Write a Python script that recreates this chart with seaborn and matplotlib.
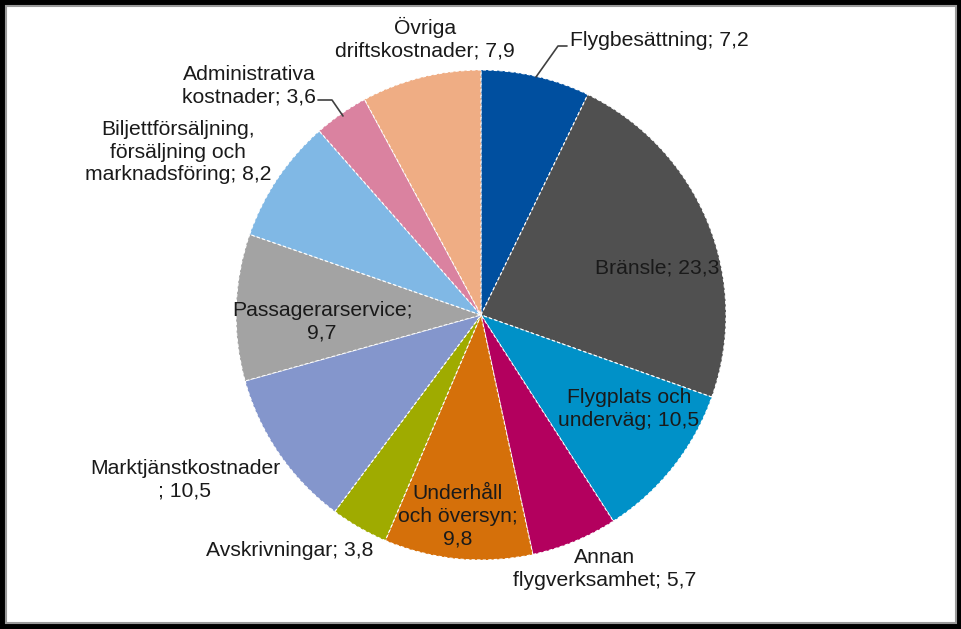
import matplotlib
matplotlib.use("Agg")
import matplotlib.pyplot as plt
from matplotlib.patches import Rectangle
import seaborn as sns

sns.set_theme(style="white")
plt.rcParams['font.family'] = ['Liberation Sans', 'DejaVu Sans']

# Data (clockwise from top)
categories = ["Flygbesättning", "Bränsle", "Flygplats och underväg", "Annan flygverksamhet",
              "Underhåll och översyn", "Avskrivningar", "Marktjänstkostnader",
              "Passagerarservice", "Biljettförsäljning, försäljning och marknadsföring",
              "Administrativa kostnader", "Övriga driftskostnader"]
values = [7.2, 23.3, 10.5, 5.7, 9.8, 3.8, 10.5, 9.7, 8.2, 3.6, 7.9]
label_texts = ["Flygbesättning; 7,2", "Bränsle; 23,3", "Flygplats och\nunderväg; 10,5",
               "Annan\nflygverksamhet; 5,7", "Underhåll\noch översyn;\n9,8",
               "Avskrivningar; 3,8", "Marktjänstkostnader\n; 10,5", "Passagerarservice;\n9,7",
               "Biljettförsäljning,\nförsäljning och\nmarknadsföring; 8,2",
               "Administrativa\nkostnader; 3,6", "Övriga\ndriftskostnader; 7,9"]
colors = ["#004f9f", "#505050", "#0091c8", "#b3005e", "#d5700a", "#9fab00",
          "#8496cc", "#a3a3a3", "#80b8e5", "#da82a0", "#efad84"]

W, H = 961, 629
fig = plt.figure(figsize=(W / 100, H / 100), dpi=100, facecolor="black")
# white panel with gray inner edge
fig.patches.append(Rectangle((6 / W, 6 / H), 950 / W, 617 / H, transform=fig.transFigure,
                             facecolor="white", edgecolor="#9a9a9a", linewidth=1.5, zorder=-5))
ax = fig.add_axes([0, 0, 1, 1])
ax.set_facecolor("none")
ax.set_zorder(5)

cx, cy, r = 481, H - 315, 245
wedges, _ = ax.pie(values, colors=colors, startangle=90, counterclock=False,
                   center=(cx, cy), radius=r, frame=True,
                   wedgeprops=dict(edgecolor="white", linewidth=0.8, linestyle=(0, (3, 2))))
ax.set_xlim(0, W)
ax.set_ylim(0, H)
ax.set_aspect("equal")
ax.axis("off")

fs = 15.2
tc = "#1a1a1a"
# label layout: (x, y in pixel from top, ha)
pos = [(570, 40, "left"), (657, 268, "center"), (629, 409, "center"), (605, 569, "center"),
       (458, 516, "center"), (290, 550, "center"), (185, 480, "center"), (322, 322, "center"),
       (178, 152, "center"), (249, 86, "center"), (425, 39, "center")]
for txt, (x, y, ha) in zip(label_texts, pos):
    ax.text(x, H - y, txt, ha=ha, va="center", fontsize=fs, color=tc,
            linespacing=1.25, multialignment="center")

# leader lines
ax.plot([536, 558, 567], [H - 77, H - 46, H - 46], color="#404040", lw=1.2)
ax.plot([318, 332, 343], [H - 100, H - 100, H - 116], color="#404040", lw=1.2)

fig.savefig("out.png", dpi=100, facecolor="black")
